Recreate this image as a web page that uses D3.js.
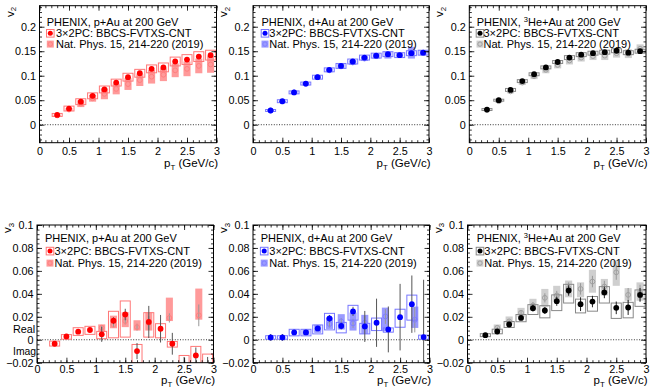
<!DOCTYPE html>
<html><head><meta charset="utf-8">
<script src="https://cdn.jsdelivr.net/npm/d3@7"></script>
<style>body{margin:0;background:#fff} text{font-family:"Liberation Sans",Arial,Helvetica,sans-serif}</style>
</head><body><svg id="c" width="650" height="387"></svg>
<script>
// ---------- DATA ----------
const pT = [0.3,0.5,0.7,0.9,1.1,1.3,1.5,1.7,1.9,2.1,2.3,2.5,2.7,2.9];
const xTicks = [0,0.5,1,1.5,2,2.5,3];
const v2Ticks = [0,0.05,0.1,0.15,0.2];
const v3Ticks = [-0.02,0,0.02,0.04,0.06,0.08,0.1];

// v2 p+Au
const pAu_v2      = [0.020,0.033,0.047,0.059,0.072,0.086,0.097,0.105,0.114,0.117,0.129,0.133,0.139,0.142];
const pAu_v2_sys  = [0.003,0.005,0.006,0.006,0.007,0.007,0.008,0.008,0.008,0.009,0.009,0.010,0.010,0.010];
const pAu_v2_np   = [0.019,0.031,0.043,0.054,0.063,0.073,0.083,0.091,0.098,0.102,0.111,0.114,0.120,0.123];
const pAu_v2_npsys= [0.002,0.003,0.007,0.007,0.011,0.011,0.012,0.012,0.014,0.013,0.014,0.015,0.015,0.017];
// v2 d+Au
const dAu_v2      = [0.029,0.048,0.066,0.084,0.097,0.112,0.120,0.129,0.137,0.141,0.144,0.142,0.146,0.147];
const dAu_v2_sys  = [0.002,0.003,0.003,0.003,0.004,0.004,0.005,0.005,0.005,0.005,0.005,0.005,0.005,0.005];
const dAu_v2_np   = [0.029,0.047,0.066,0.083,0.097,0.111,0.119,0.127,0.135,0.140,0.142,0.142,0.147,0.147];
const dAu_v2_npsys= [0.002,0.002,0.003,0.003,0.004,0.004,0.005,0.005,0.005,0.005,0.007,0.005,0.012,0.005];
// v2 3He+Au
const heAu_v2      = [0.031,0.050,0.071,0.089,0.103,0.117,0.128,0.137,0.143,0.146,0.148,0.151,0.147,0.150];
const heAu_v2_sys  = [0.002,0.002,0.003,0.003,0.003,0.003,0.003,0.004,0.004,0.004,0.004,0.004,0.004,0.004];
const heAu_v2_np   = [0.030,0.048,0.068,0.086,0.099,0.112,0.122,0.131,0.137,0.140,0.141,0.146,0.145,0.155];
const heAu_v2_npsys= [0.002,0.003,0.004,0.005,0.006,0.007,0.007,0.008,0.008,0.008,0.009,0.009,0.009,0.009];

// v3 p+Au
const pAu_v3       = [-0.0035,0.0029,0.0070,0.0085,0.0047,0.0166,0.0220,-0.0099,0.0155,0.0096,-0.0035,-0.025,-0.0137,-0.025];
const pAu_v3_stat  = [0.001,0.001,0.001,0.001,0.0065,0.003,0.005,0.007,0.014,0.012,0.0095,0.010,0.007,0.010];
const pAu_v3_sysLo = [-0.0055,0.0005,0.0038,0.0047,0.0009,0.0017,0.0023,-0.0204,0.0023,0.0017,-0.0064,-0.030,-0.030,-0.030];
const pAu_v3_sysHi = [-0.0012,0.0045,0.0105,0.0117,0.0073,0.0248,0.0338,-0.0041,0.0236,0.0140,-0.0015,-0.0137,-0.0058,-0.0125];
const pAu_v3_npPt    = [1.1,1.3,1.5,1.7,1.9,2.25,2.75];
const pAu_v3_np      = [0.0105,0.013,0.0163,0.011,0.0146,0.019,0.0213];
const pAu_v3_npStat  = [0.002,0.002,0.003,0.003,0.006,0.004,0.0095];
const pAu_v3_npSysLo = [0.0067,0.010,0.011,0.008,0.008,0.0163,0.0175];
const pAu_v3_npSysHi = [0.0134,0.021,0.024,0.017,0.0237,0.0367,0.0446];
// v3 d+Au
const dAu_v3       = [0.0020,0.0020,0.0064,0.0064,0.0099,0.0186,0.0120,0.0247,0.0116,0.0148,0.0090,0.0197,0.0310,0.0023];
const dAu_v3_stat  = [0.003,0.003,0.001,0.001,0.002,0.003,0.003,0.004,0.0135,0.021,0.020,0.029,0.025,0.050];
const dAu_v3_sysLo = [0.0005,0.0005,0.0034,0.0034,0.0051,0.0086,0.0060,0.0171,0.0051,0.0080,0.0066,0.0109,0.0171,0.0005];
const dAu_v3_sysHi = [0.0035,0.0035,0.0091,0.0091,0.0129,0.0230,0.0151,0.0300,0.0143,0.0189,0.0103,0.0266,0.0389,0.0040];
const dAu_v3_npPt    = [0.9,1.1,1.3,1.5,1.7,1.9,2.25,2.75];
const dAu_v3_np      = [0.0065,0.0095,0.0137,0.016,0.0143,0.0149,0.0203,0.0174];
const dAu_v3_npStat  = [0.001,0.002,0.003,0.003,0.004,0.006,0.0065,0.011];
const dAu_v3_npSysLo = [0.004,0.006,0.0094,0.0089,0.008,0.0051,0.0074,0.0103];
const dAu_v3_npSysHi = [0.009,0.013,0.0194,0.0223,0.0237,0.0217,0.028,0.0289];
// v3 3He+Au
const heAu_v3       = [0.0040,0.0072,0.0133,0.0190,0.0275,0.0255,0.0336,0.0429,0.0310,0.0333,0.0412,0.0278,0.0281,0.0391];
const heAu_v3_stat  = [0.0008,0.001,0.0015,0.002,0.003,0.003,0.004,0.0045,0.006,0.005,0.005,0.0055,0.0065,0.006];
const heAu_v3_sysLo = [0.0027,0.0052,0.0107,0.0157,0.0220,0.0191,0.0254,0.0320,0.0234,0.0249,0.0320,0.0186,0.0191,0.0291];
const heAu_v3_sysHi = [0.0053,0.0092,0.0159,0.0220,0.0306,0.0297,0.0391,0.0483,0.0354,0.0377,0.0463,0.0320,0.0326,0.0434];
const heAu_v3_npPt    = [0.5,0.7,0.9,1.1,1.3,1.5,1.7,1.9,2.1,2.3,2.5,2.7,2.9];
const heAu_v3_np      = [0.0104,0.016,0.0235,0.0299,0.0365,0.0386,0.045,0.0443,0.0507,0.0464,0.0588,0.0391,0.0409];
const heAu_v3_npStat  = [0.001,0.0015,0.002,0.003,0.004,0.004,0.005,0.005,0.005,0.005,0.0065,0.006,0.007];
const heAu_v3_npSysLo = [0.008,0.014,0.0197,0.0255,0.0284,0.034,0.037,0.037,0.041,0.0386,0.047,0.034,0.034];
const heAu_v3_npSysHi = [0.0133,0.0203,0.0278,0.0357,0.0443,0.047,0.0516,0.050,0.061,0.053,0.069,0.045,0.050];

// ---------- STYLES ----------
const RED  = {mk:"#ff0000", box:"#ff7777", band:"#ff9a9a", npmk:"#ff8080", stat:"#555", npstat:"#999"};
const BLUE = {mk:"#0000ff", box:"#7777ff", band:"#9a9aff", npmk:"#8080ff", stat:"#555", npstat:"#999"};
const BLK  = {mk:"#000000", box:"#888888", band:"#cfcfcf", npmk:"#a0a0a0", stat:"#222", npstat:"#999"};

const svg = d3.select("#c");
const TFONT = 10.8;   // tick labels
const LFONT = 11;     // legend
let clipN = 0;

function sym(v, s){ return {lo: v.map((d,i)=>d-s[i]), hi: v.map((d,i)=>d+s[i])}; }

function panel(c){
  const x = d3.scaleLinear().domain([0,3]).range([c.x0,c.x1]);
  const y = d3.scaleLinear().domain(c.ydom).range([c.y1,c.y0]);
  const id = "clip"+(clipN++);
  svg.append("clipPath").attr("id",id).append("rect")
    .attr("x",c.x0).attr("y",c.y0).attr("width",c.x1-c.x0).attr("height",c.y1-c.y0);
  const g = svg.append("g").attr("clip-path",`url(#${id})`);
  const col = c.col;

  g.append("line").attr("x1",c.x0).attr("x2",c.x1).attr("y1",y(0)).attr("y2",y(0))
    .attr("stroke","#000").attr("stroke-width",0.8).attr("stroke-dasharray","1,1.6");

  const bw = 0.06, boxw = 0.085;
  c.npPt.forEach((p,i)=>{
    g.append("rect").attr("x",x(p-bw)).attr("width",x(p+bw)-x(p-bw))
      .attr("y",y(c.npHi[i])).attr("height",Math.max(0.5,y(c.npLo[i])-y(c.npHi[i])))
      .attr("fill",col.band);
  });
  if (c.npStat) c.npPt.forEach((p,i)=>{
    g.append("line").attr("x1",x(p)).attr("x2",x(p))
      .attr("y1",y(c.np[i]+c.npStat[i])).attr("y2",y(c.np[i]-c.npStat[i]))
      .attr("stroke",col.npstat).attr("stroke-width",1);
  });
  c.npPt.forEach((p,i)=>{
    g.append("circle").attr("cx",x(p)).attr("cy",y(c.np[i])).attr("r",2.4)
      .attr("fill","none").attr("stroke",col.npmk).attr("stroke-width",1);
  });
  pT.forEach((p,i)=>{
    g.append("rect").attr("x",x(p-boxw)).attr("width",x(p+boxw)-x(p-boxw))
      .attr("y",y(c.sysHi[i])).attr("height",y(c.sysLo[i])-y(c.sysHi[i]))
      .attr("fill","none").attr("stroke",col.box).attr("stroke-width",1);
  });
  if (c.stat) pT.forEach((p,i)=>{
    g.append("line").attr("x1",x(p)).attr("x2",x(p))
      .attr("y1",y(c.v[i]+c.stat[i])).attr("y2",y(c.v[i]-c.stat[i]))
      .attr("stroke",col.stat).attr("stroke-width",1);
  });
  pT.forEach((p,i)=>{
    g.append("circle").attr("cx",x(p)).attr("cy",y(c.v[i])).attr("r",2.9).attr("fill",col.mk);
  });

  svg.append("rect").attr("x",c.x0).attr("y",c.y0).attr("width",c.x1-c.x0).attr("height",c.y1-c.y0)
    .attr("fill","none").attr("stroke","#000").attr("stroke-width",1);

  const fmt = d3.format("~g");
  const xMinor = d3.range(0,31).map(i=>i/10);
  const yMinor = c.yMinor;
  function style(sel){ sel.select(".domain").remove(); sel.selectAll("text").attr("font-size",TFONT).attr("font-family",'"Liberation Sans",Arial,sans-serif').attr("fill","#000"); sel.selectAll("line").attr("stroke","#000").attr("stroke-width",0.8); }
  svg.append("g").attr("transform",`translate(0,${c.y1})`)
    .call(d3.axisBottom(x).tickValues(xTicks).tickSize(-5).tickPadding(c.xpad).tickFormat(fmt)).call(style);
  svg.append("g").attr("transform",`translate(0,${c.y1})`)
    .call(d3.axisBottom(x).tickValues(xMinor).tickSize(-2.5).tickFormat("")).call(style);
  svg.append("g").attr("transform",`translate(0,${c.y0})`)
    .call(d3.axisTop(x).tickValues(xTicks).tickSize(-5).tickFormat("")).call(style);
  svg.append("g").attr("transform",`translate(0,${c.y0})`)
    .call(d3.axisTop(x).tickValues(xMinor).tickSize(-2.5).tickFormat("")).call(style);
  svg.append("g").attr("transform",`translate(${c.x0},0)`)
    .call(d3.axisLeft(y).tickValues(c.yTicks).tickSize(-5).tickPadding(3.5).tickFormat(fmt)).call(style);
  svg.append("g").attr("transform",`translate(${c.x0},0)`)
    .call(d3.axisLeft(y).tickValues(yMinor).tickSize(-2.5).tickFormat("")).call(style);
  svg.append("g").attr("transform",`translate(${c.x1},0)`)
    .call(d3.axisRight(y).tickValues(c.yTicks).tickSize(-5).tickFormat("")).call(style);
  svg.append("g").attr("transform",`translate(${c.x1},0)`)
    .call(d3.axisRight(y).tickValues(yMinor).tickSize(-2.5).tickFormat("")).call(style);

  const xt = svg.append("text").attr("x",Math.min(c.x1+1.5,648.5)).attr("y",c.xtY)
    .attr("text-anchor","end").attr("font-size",11.5);
  xt.append("tspan").text("p");
  xt.append("tspan").attr("font-size",7.8).attr("dy",2.5).text("T");
  xt.append("tspan").attr("dy",-2.5).text(" (GeV/c)");
  const yt = svg.append("text").attr("transform",`translate(${c.x0-26},${c.ytY}) rotate(-90)`)
    .attr("text-anchor","end").attr("font-size",11.5);
  yt.append("tspan").text("v");
  yt.append("tspan").attr("font-size",7.8).attr("dy",2.5).text(c.n);

  const L = c.leg;
  const t1 = svg.append("text").attr("x",L.t1x).attr("y",L.y1).attr("font-size",LFONT);
  if (c.sys === "He") {
    t1.append("tspan").text("PHENIX, ");
    t1.append("tspan").attr("font-size",7.5).attr("dy",-3.8).text("3");
    t1.append("tspan").attr("dy",3.8).text("He+Au at 200 GeV");
  } else t1.text(`PHENIX, ${c.sys} at 200 GeV`);
  const m2 = L.y2-3.9, m3 = L.y3-3.9;
  svg.append("rect").attr("x",L.mx-3.8).attr("y",m2-3.8).attr("width",7.6).attr("height",7.6)
    .attr("fill","none").attr("stroke",col.box).attr("stroke-width",1);
  svg.append("circle").attr("cx",L.mx).attr("cy",m2).attr("r",2.5).attr("fill",col.mk);
  svg.append("text").attr("x",L.t2x).attr("y",L.y2).attr("font-size",LFONT).text("3×2PC: BBCS-FVTXS-CNT");
  svg.append("rect").attr("x",L.mx-3.5).attr("y",m3-3.5).attr("width",7).attr("height",7).attr("fill",col.band);
  svg.append("circle").attr("cx",L.mx).attr("cy",m3).attr("r",2.2).attr("fill","none").attr("stroke",col.npmk);
  svg.append("text").attr("x",L.t2x).attr("y",L.y3).attr("font-size",LFONT).text("Nat. Phys. 15, 214-220 (2019)");
}

const topRow = {y0:5.7, y1:142.7, ydom:[-0.0367,0.2429], yTicks:v2Ticks,
  yMinor:d3.range(0,28).map(i=>Math.round((-0.03+i*0.01)*1000)/1000), xpad:5, xtY:167, ytY:7, n:"2"};
const botRow = {y0:225, y1:362.7, ydom:[-0.02,0.1], yTicks:v3Ticks,
  yMinor:d3.range(0,31).map(i=>Math.round((-0.02+i*0.004)*10000)/10000), xpad:3, xtY:384, ytY:223, n:"3"};

const a = sym(pAu_v2,pAu_v2_sys), an = sym(pAu_v2_np,pAu_v2_npsys);
panel(Object.assign({}, topRow, {x0:39.5,x1:216.5,col:RED,sys:"p+Au",v:pAu_v2,sysLo:a.lo,sysHi:a.hi,
  npPt:pT,np:pAu_v2_np,npLo:an.lo,npHi:an.hi,
  leg:{t1x:46.7,y1:25.8,mx:50.3,t2x:56,y2:37.2,y3:48}}));
const b = sym(dAu_v2,dAu_v2_sys), bn = sym(dAu_v2_np,dAu_v2_npsys);
panel(Object.assign({}, topRow, {x0:253,x1:429,col:BLUE,sys:"d+Au",v:dAu_v2,sysLo:b.lo,sysHi:b.hi,
  npPt:pT,np:dAu_v2_np,npLo:bn.lo,npHi:bn.hi,
  leg:{t1x:261.5,y1:25.8,mx:265,t2x:269.3,y2:37.2,y3:48}}));
const h = sym(heAu_v2,heAu_v2_sys), hn = sym(heAu_v2_np,heAu_v2_npsys);
panel(Object.assign({}, topRow, {x0:469.3,x1:646,col:BLK,sys:"He",v:heAu_v2,sysLo:h.lo,sysHi:h.hi,
  npPt:pT,np:heAu_v2_np,npLo:hn.lo,npHi:hn.hi,
  leg:{t1x:476.7,y1:25.8,mx:480,t2x:483.5,y2:37.2,y3:48}}));

panel(Object.assign({}, botRow, {x0:37,x1:213.5,col:RED,sys:"p+Au",v:pAu_v3,stat:pAu_v3_stat,
  sysLo:pAu_v3_sysLo,sysHi:pAu_v3_sysHi,npPt:pAu_v3_npPt,np:pAu_v3_np,npStat:pAu_v3_npStat,
  npLo:pAu_v3_npSysLo,npHi:pAu_v3_npSysHi,
  leg:{t1x:45,y1:241.5,mx:50,t2x:54.5,y2:255,y3:267}}));
panel(Object.assign({}, botRow, {x0:253,x1:429.5,col:BLUE,sys:"d+Au",v:dAu_v3,stat:dAu_v3_stat,
  sysLo:dAu_v3_sysLo,sysHi:dAu_v3_sysHi,npPt:dAu_v3_npPt,np:dAu_v3_np,npStat:dAu_v3_npStat,
  npLo:dAu_v3_npSysLo,npHi:dAu_v3_npSysHi,
  leg:{t1x:260.7,y1:241.5,mx:264.2,t2x:269.3,y2:255,y3:267}}));
panel(Object.assign({}, botRow, {x0:467.5,x1:646,col:BLK,sys:"He",v:heAu_v3,stat:heAu_v3_stat,
  sysLo:heAu_v3_sysLo,sysHi:heAu_v3_sysHi,npPt:heAu_v3_npPt,np:heAu_v3_np,npStat:heAu_v3_npStat,
  npLo:heAu_v3_npSysLo,npHi:heAu_v3_npSysHi,
  leg:{t1x:476.7,y1:241.5,mx:480,t2x:484.3,y2:255,y3:267}}));

svg.append("text").attr("x",13).attr("y",332.8).attr("font-size",TFONT).text("Real");
svg.append("text").attr("x",13).attr("y",355).attr("font-size",10.4).text("Imag.");
</script></body></html>
